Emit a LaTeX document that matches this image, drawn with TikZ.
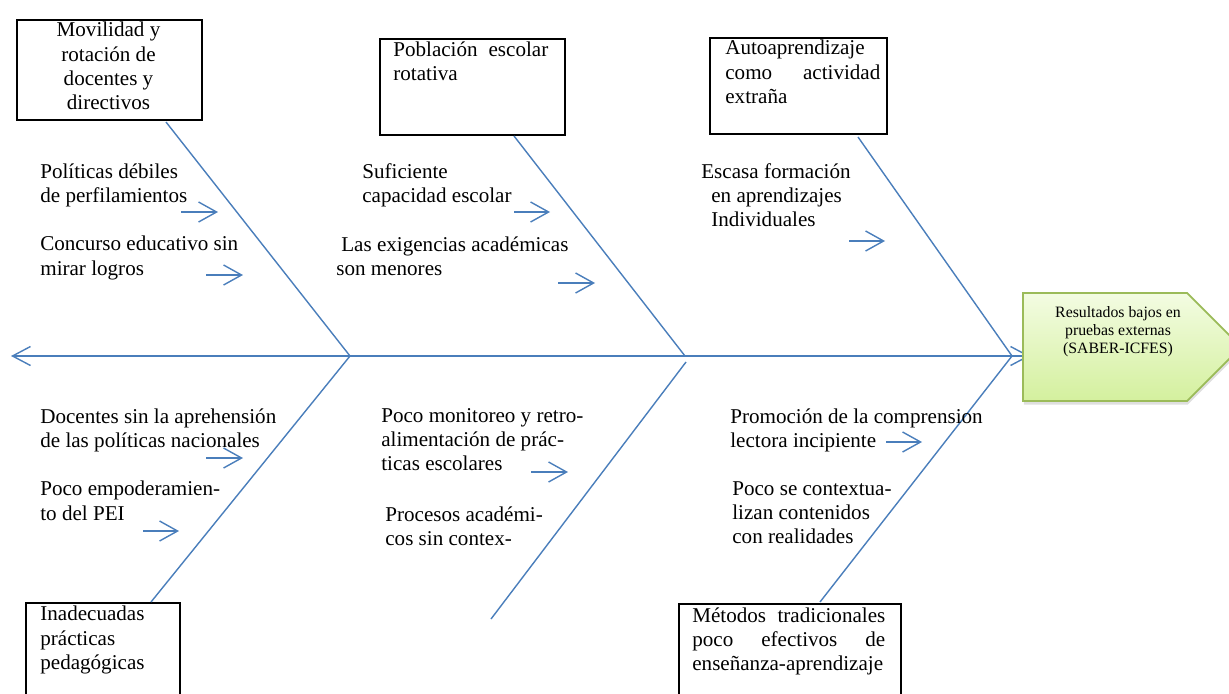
\documentclass[tikz,border=0pt]{standalone}
\usepackage{fontspec}
\setmainfont{Liberation Serif}
\usetikzlibrary{arrows.meta,shadows}
\definecolor{bone_blue}{RGB}{74,126,187}
\definecolor{res_line}{RGB}{155,187,89}
\definecolor{res_top}{RGB}{243,252,226}
\definecolor{res_bottom}{RGB}{212,240,158}

\begin{document}
\begin{tikzpicture}[x=0.02cm, y=-0.02cm]
  \tikzstyle{txt} = [anchor=north west, inner sep=0, align=left, font=\fontsize{12}{13.8}\selectfont, execute at begin node=\strut];
  \tikzstyle{box} = [draw=black, line width=0.9pt, anchor=north west, inner sep=0];
  \tikzstyle{bone} = [draw=bone_blue, line width=0.8pt];
  \tikzstyle{twig} = [bone, -{Straight Barb[length=3.6mm, width=4mm]}];

  \clip (0,0) rectangle (1229,693);

  \coordinate (tail) at (11,356);
  \coordinate (head) at (1030,356);
  \coordinate (j1) at (350,356);
  \coordinate (j2) at (685,356);
  \coordinate (j3) at (1012,356);
  \coordinate (j2_low) at (686,362);

  \node[box, minimum width=3.7cm,  minimum height=2cm]    (mov)  at (16,19)   {};
  \node[box, minimum width=3.7cm,  minimum height=1.92cm] (pob)  at (379,38)  {};
  \node[box, minimum width=3.54cm, minimum height=1.92cm] (auto) at (709,37)  {};
  \node[box, minimum width=3.08cm, minimum height=3cm]    (inad) at (25,602)  {};
  \node[box, minimum width=4.44cm, minimum height=3cm]    (met)  at (678,603) {};

  \coordinate (mov_end)  at (166,122);
  \coordinate (pob_end)  at (514,136);
  \coordinate (auto_end) at (858,137);
  \coordinate (inad_end) at (151,602);
  \coordinate (proc_end) at (491,619);
  \coordinate (met_end)  at (820,602);

  \draw[bone, {Straight Barb[length=3.6mm, width=3.8mm]}-{Straight Barb[length=3.6mm, width=3.8mm]}] (tail) -- (head);

  \draw[bone] (mov_end)  -- (j1);
  \draw[bone] (pob_end)  -- (j2);
  \draw[bone] (auto_end) -- (j3);
  \draw[bone] (j1)       -- (inad_end);
  \draw[bone] (j2_low)   -- (proc_end);
  \draw[bone] (j3)       -- (met_end);

  \node[txt, anchor=north, align=center] (t_mov) at (108.5,22) {Movilidad y\\rotación de\\docentes y\\directivos};
  \node[txt] (t_pob)  at (393,41)  {\makebox[3.1cm][s]{Población escolar}\\rotativa};
  \node[txt] (t_auto) at (725,40)  {Autoaprendizaje\\\makebox[3.1cm][s]{como actividad}\\extraña};
  \node[txt] (t_inad) at (40,606)  {Inadecuadas\\prácticas\\pedagógicas};
  \node[txt] (t_met)  at (692,607) {\makebox[3.86cm][s]{Métodos tradicionales}\\\makebox[3.86cm][s]{poco efectivos de}\\enseñanza-aprendizaje};

  \node[txt] (pol)  at (40,163)  {Políticas débiles\\de perfilamientos};
  \node[txt] (conc) at (40,236)  {Concurso educativo sin\\mirar logros};
  \node[txt] (suf)  at (362,163) {Suficiente\\capacidad escolar};
  \node[txt] (exig) at (336,236) {\hspace*{0.1cm}Las exigencias académicas\\son menores};
  \node[txt] (esc)  at (701,163) {Escasa formación\\\hspace*{0.2cm}en aprendizajes\\\hspace*{0.2cm}Individuales};
  \node[txt] (doc)  at (40,408)  {Docentes sin la aprehensión\\de las políticas nacionales};
  \node[txt] (emp)  at (40,481)  {Poco empoderamien-\\to del PEI};
  \node[txt] (mon)  at (381,408) {Poco monitoreo y retro-\\alimentación de prác-\\ticas escolares};
  \node[txt] (proc) at (385,506) {Procesos académi-\\cos sin contex-};
  \node[txt] (prom) at (730,408) {Promoción de la comprension\\lectora incipiente};
  \node[txt] (ctx)  at (732,481) {Poco se contextua-\\lizan contenidos\\con realidades};

  \draw[twig] (181,212) -- (218,212);
  \draw[twig] (206,275) -- (243,275);
  \draw[twig] (514,212) -- (550,212);
  \draw[twig] (558,283) -- (595,283);
  \draw[twig] (849,241) -- (885,241);
  \draw[twig] (206,458) -- (243,458);
  \draw[twig] (143,531) -- (179,531);
  \draw[twig] (531,472) -- (568,472);
  \draw[twig] (886,442) -- (922,442);

  \path[draw=res_line, line width=1pt, top color=res_top, bottom color=res_bottom,
        drop shadow={shadow xshift=0.5pt, shadow yshift=-2pt, opacity=0.25}]
    (1023,293) -- (1187,293) -- (1241,347) -- (1187,401) -- (1023,401) -- cycle;
  \node[txt, anchor=north, align=center, font=\fontsize{9}{10.4}\selectfont] (res) at (1118,306)
    {Resultados bajos en\\pruebas externas\\(SABER-ICFES)};
\end{tikzpicture}
\end{document}
